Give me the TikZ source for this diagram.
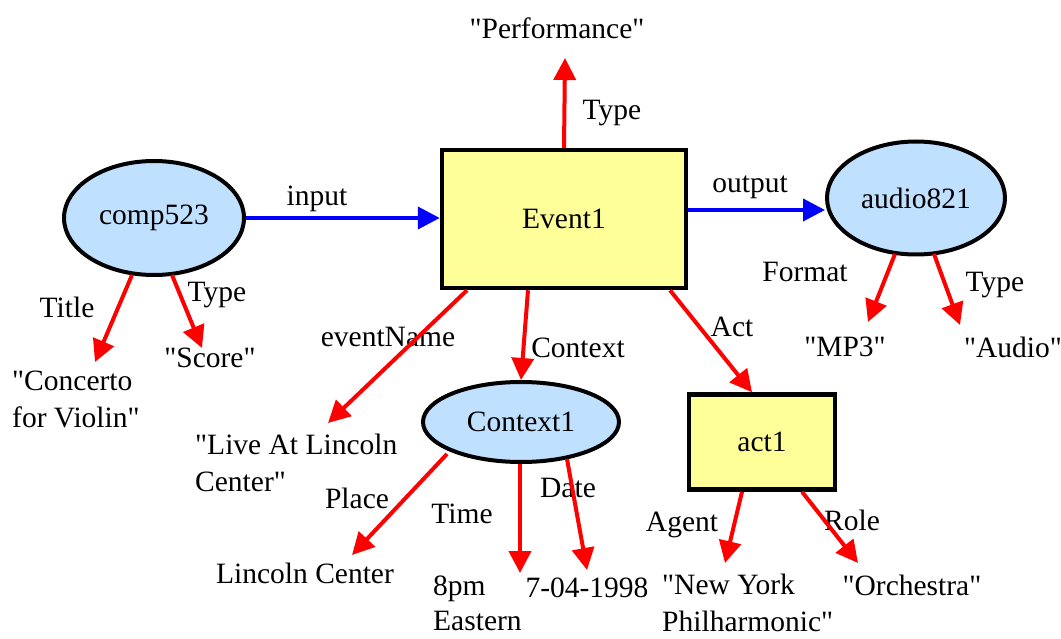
\documentclass[tikz,border=0pt]{standalone}
\usepackage{fontspec}
\newfontfamily\plainserif{Liberation Serif}
\usetikzlibrary{shapes.geometric,arrows.meta,calc}
\definecolor{nodeblue}{HTML}{BFE0FF}
\definecolor{nodeyellow}{HTML}{FFFF99}
\tikzset{
  txt/.style={inner sep=0pt, font=\plainserif\fontsize{29.5}{37}\selectfont},
  lbl/.style={txt},
  ellnode/.style={ellipse, draw=black, line width=4pt, fill=nodeblue, inner sep=0pt, txt},
  boxnode/.style={rectangle, draw=black, line width=4.5pt, fill=nodeyellow, inner sep=0pt, txt},
  rel/.style={draw=red, line width=4pt, -{Triangle[length=22pt,width=22pt]}},
  io/.style={draw=blue, line width=4pt, -{Triangle[length=22pt,width=22pt]}},
}
\begin{document}
\begin{tikzpicture}[x=1pt,y=-1pt]
\useasboundingbox (0,0) rectangle (1061,639);
% main nodes
\node[boxnode, minimum width=244, minimum height=138] (event) at (564,219) {Event1};
\node[ellnode, minimum width=180, minimum height=114] (comp) at (154,218) {comp523};
\node[ellnode, minimum width=178, minimum height=113] (audio) at (916,198) {audio821};
\node[ellnode, minimum width=196, minimum height=80] (ctx) at (521,422) {Context1};
\node[boxnode, minimum width=146, minimum height=95] (act) at (762,442) {act1};
% value nodes
\node[txt] (perf) at (557,28) {"Performance"};
\node[txt, align=left, anchor=west] (concerto) at (12,399) {"Concerto\\for Violin"};
\node[txt] (score) at (210,358) {"Score"};
\node[txt, align=left, anchor=west] (live) at (195,463) {"Live At Lincoln\\Center"};
\node[txt] (lincoln) at (305,573) {Lincoln Center};
\node[txt, align=left, anchor=west, font=\plainserif\fontsize{29.5}{35}\selectfont] (eight) at (433,603) {8pm\\Eastern};
\node[txt] (date) at (587,588) {7-04-1998};
\node[txt, align=left, anchor=west] (ny) at (662,603) {"New York\\Philharmonic"};
\node[txt] (orch) at (912,585) {"Orchestra"};
\node[txt] (mp3) at (845,347) {"MP3"};
\node[txt] (audiov) at (1013,347) {"Audio"};
% edge labels
\node[lbl] (lType) at (612,113) {Type};
\node[lbl] (lInput) at (317,199) {input};
\node[lbl] (lOutput) at (750,187) {output};
\node[lbl] (lFormat) at (805,272) {Format};
\node[lbl] (lTypeA) at (995,285) {Type};
\node[lbl] (lTitle) at (67,307) {Title};
\node[lbl] (lTypeC) at (217,295) {Type};
\node[lbl] (lEventName) at (388,337) {eventName};
\node[lbl] (lContext) at (578,348) {Context};
\node[lbl] (lAct) at (732,327) {Act};
\node[lbl] (lPlace) at (357,498) {Place};
\node[lbl] (lTime) at (462,514) {Time};
\node[lbl] (lDate) at (568,488) {Date};
\node[lbl] (lAgent) at (682,525) {Agent};
\node[lbl] (lRole) at (852,520) {Role};
% arrow tips
\coordinate (tPerf) at (565,58);
\coordinate (tTitle) at (95,362);
\coordinate (tScore) at (202,348);
\coordinate (tLive) at (328,423);
\coordinate (tMP3) at (868,322);
\coordinate (tAudio) at (960,325);
\coordinate (tPlace) at (352,555);
\coordinate (tTime) at (520,573);
\coordinate (tDate) at (587,570);
\coordinate (tNY) at (725,563);
\coordinate (tOrch) at (858,563);
% connectors
\draw[io] (comp.east) -- (event.west |- comp.east);
\draw[io] (event.east |- 0,210) -- (audio.west |- 0,210);
\draw[rel] (event.north |- 0,148) -- (tPerf);
\draw[rel] ($(comp)+(-22,57)$) -- (tTitle);
\draw[rel] ($(comp)+(18,57)$) -- (tScore);
\draw[rel] ($(event.south)+(-97,0)$) -- (tLive);
\draw[rel] ($(event.south)+(-36,0)$) -- (ctx.north);
\draw[rel] ($(event.south)+(106,0)$) -- ($(act.north)+(-10,0)$);
\draw[rel] ($(audio)+(-21,56)$) -- (tMP3);
\draw[rel] ($(audio)+(18,56)$) -- (tAudio);
\draw[rel] ($(ctx)+(-74,32)$) -- (tPlace);
\draw[rel] ($(ctx.south)+(-1,0)$) -- (tTime);
\draw[rel] ($(ctx)+(46,37)$) -- (tDate);
\draw[rel] ($(act.south)+(-20,0)$) -- (tNY);
\draw[rel] ($(act.south)+(40,0)$) -- (tOrch);
\end{tikzpicture}
\end{document}
